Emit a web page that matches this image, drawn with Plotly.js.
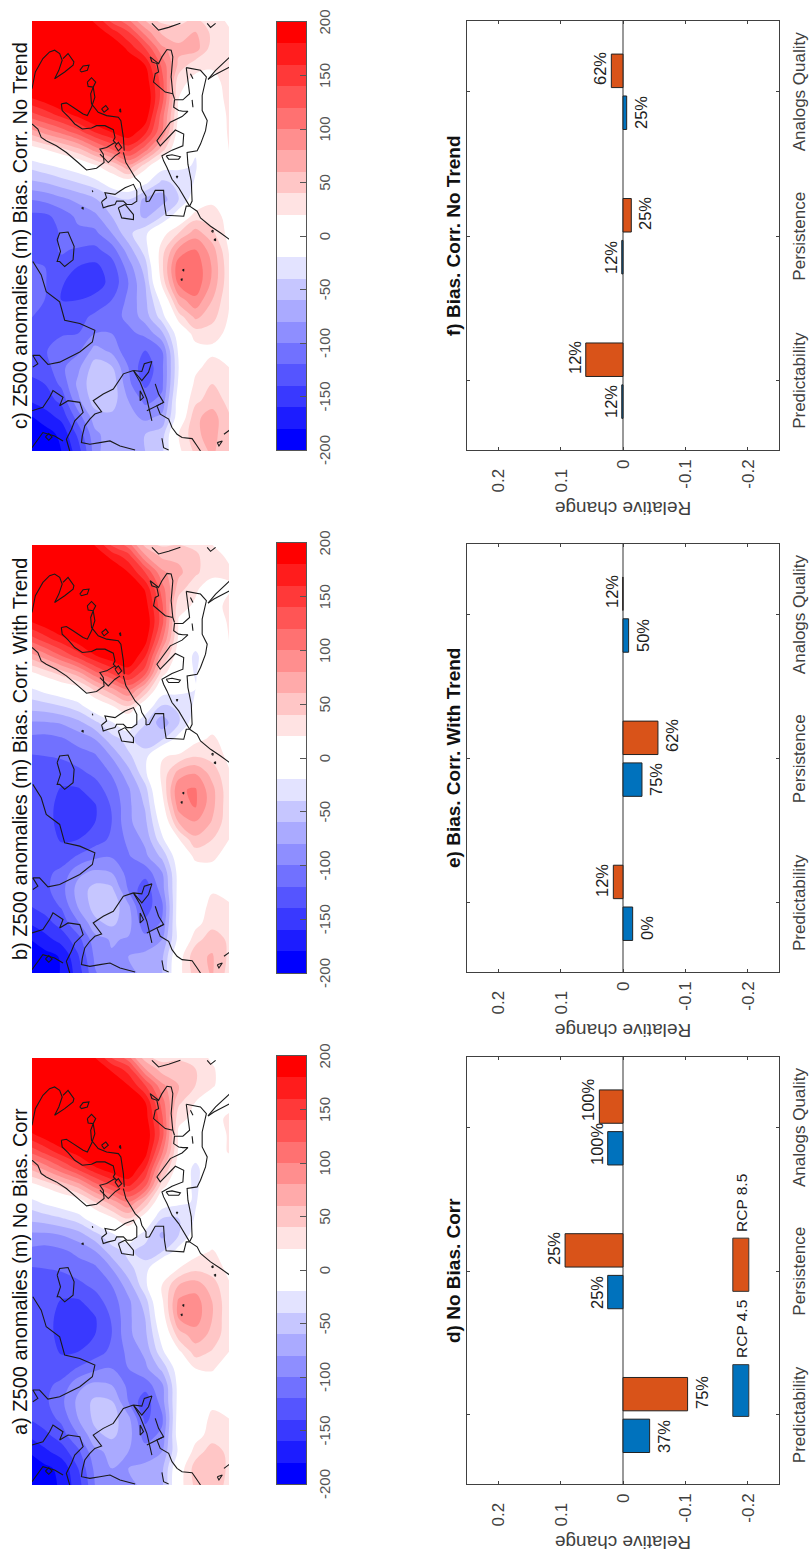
<!DOCTYPE html>
<html>
<head>
<meta charset="utf-8">
<script src="https://cdn.plot.ly/plotly-3.0.1.min.js"></script>
<style>
  html, body { margin: 0; padding: 0; background: #fff; overflow: hidden; }
  #wrap { width: 809px; height: 1564px; overflow: hidden; position: relative; }
  /* the figure was laid out landscape and turned a quarter turn */
  #chart { width: 1564px; height: 809px; position: absolute; left: 0; top: 0;
           transform-origin: 0 0; transform: rotate(-90deg) translateX(-1564px); }
</style>
</head>
<body>
<div id="wrap"><div id="chart"></div></div>
<script>
const lons = [-80,-75,-70,-65,-60,-55,-50,-45,-40,-35,-30,-25,-20,-15,-10,-5,0,5,10,15,20,25,30,35,40,45,50];
const lats = [74,70,66,62,58,54,50,46,42,38,34,30,26];

const z500a = [
  [-200,-198,-180,-158,-140,-132,-128,-125,-125,-125,-125,-125,-125,-122,-105,-85,-55,-30,10,60,120,170,205,230,250,260,265],
  [-195,-185,-165,-145,-130,-125,-125,-128,-130,-130,-130,-128,-125,-120,-110,-85,-50,-15,25,85,145,190,220,240,255,260,260],
  [-175,-175,-150,-130,-115,-105,-115,-130,-142,-148,-148,-142,-128,-118,-105,-80,-42,-5,45,115,170,210,235,250,250,240,225],
  [-150,-140,-125,-100,-80,-75,-85,-118,-140,-150,-150,-143,-125,-110,-95,-70,-30,5,70,145,190,225,240,245,240,230,200],
  [-100,-95,-85,-65,-55,-55,-75,-105,-130,-140,-142,-130,-115,-105,-82,-48,-5,40,110,175,215,235,240,235,225,200,170],
  [-85,-80,-75,-55,-50,-58,-80,-100,-115,-120,-118,-110,-100,-80,-50,-25,15,70,140,195,225,235,235,225,205,175,120],
  [-85,-80,-80,-72,-75,-100,-105,-100,-95,-85,-85,-85,-70,-45,-35,-5,40,100,165,205,225,228,225,205,180,150,85],
  [-75,-75,-90,-110,-125,-135,-110,-85,-75,-65,-60,-50,-25,-30,-50,-30,5,55,125,160,190,200,190,180,140,80,35],
  [-65,-65,-80,-95,-105,-90,-85,-55,-25,-10,5,15,20,15,-40,-65,-40,-5,30,65,105,130,125,110,85,50,25],
  [10,5,-15,-5,-5,-10,-10,-5,15,50,80,85,60,20,-10,-40,-40,-15,-5,5,15,15,25,45,60,50,30],
  [45,50,30,10,5,10,5,20,50,70,90,90,70,35,12,-8,-18,-22,-25,-28,-5,10,15,20,40,40,25],
  [60,60,50,30,25,15,10,22,38,55,60,60,50,30,22,8,5,0,0,5,5,8,10,10,22,22,15],
  [30,35,35,22,20,12,5,10,20,25,25,25,22,15,10,5,0,0,0,0,22,22,25,10,10,10,8],
];
const z500b = [
  [-205,-198,-182,-160,-142,-135,-130,-126,-125,-125,-125,-125,-125,-122,-105,-82,-52,-25,15,65,125,175,208,232,250,260,265],
  [-198,-188,-168,-148,-132,-126,-125,-128,-130,-130,-130,-128,-125,-120,-108,-82,-48,-12,30,90,150,192,222,240,255,258,258],
  [-178,-178,-152,-132,-118,-108,-115,-130,-142,-148,-148,-142,-128,-118,-103,-78,-40,-2,50,120,172,212,236,250,250,240,222],
  [-152,-142,-128,-102,-78,-72,-85,-118,-140,-150,-150,-142,-125,-110,-92,-66,-28,8,75,150,192,226,240,245,240,228,198],
  [-102,-96,-88,-65,-52,-52,-75,-105,-130,-140,-142,-130,-115,-103,-80,-45,-2,45,115,178,215,235,240,235,225,198,168],
  [-85,-82,-78,-55,-46,-55,-80,-102,-116,-120,-118,-110,-98,-78,-48,-22,18,75,145,196,226,235,235,225,205,172,118],
  [-85,-80,-82,-72,-76,-102,-108,-102,-95,-85,-85,-83,-68,-43,-33,-5,42,105,168,206,226,228,225,205,180,148,88],
  [-75,-75,-92,-115,-130,-135,-112,-85,-75,-65,-58,-48,-24,-28,-55,-38,0,58,128,162,190,200,190,178,140,82,40],
  [-62,-65,-80,-98,-105,-90,-82,-55,-25,-8,8,20,25,18,-42,-72,-42,-6,30,65,105,128,125,110,85,55,28],
  [12,8,-12,-6,-6,-10,-10,-2,18,60,90,98,68,24,-10,-42,-38,-12,-5,5,15,18,25,50,65,55,32],
  [50,55,32,12,8,15,8,25,55,78,102,102,78,38,14,-6,-16,-20,-22,-26,-5,12,18,22,45,45,28],
  [62,62,52,32,26,18,12,24,40,58,66,66,52,32,24,10,6,0,0,5,5,8,12,12,24,24,18],
  [32,36,36,24,22,14,5,12,20,26,26,26,22,15,10,6,0,0,0,0,22,22,25,18,22,18,8],
];
const z500c = [
  [-200,-198,-185,-160,-145,-135,-130,-125,-118,-112,-112,-118,-128,-130,-125,-100,-65,-35,5,65,125,175,210,235,250,260,260],
  [-198,-190,-170,-150,-140,-130,-122,-122,-125,-120,-118,-120,-128,-130,-125,-95,-60,-25,20,85,145,190,220,240,250,255,250],
  [-180,-175,-155,-135,-115,-105,-110,-122,-132,-140,-138,-125,-118,-118,-112,-85,-50,-15,35,105,165,210,235,245,245,235,215],
  [-150,-135,-110,-85,-75,-85,-105,-120,-128,-140,-150,-140,-122,-105,-95,-75,-40,-5,55,130,185,220,240,245,240,225,195],
  [-90,-85,-70,-50,-45,-50,-72,-100,-115,-135,-148,-145,-125,-105,-85,-62,-30,15,90,160,205,230,240,235,220,195,165],
  [-60,-70,-65,-50,-45,-58,-85,-100,-108,-120,-135,-130,-110,-80,-60,-50,-5,40,120,180,215,230,235,225,205,170,115],
  [-60,-65,-72,-80,-95,-100,-115,-105,-95,-95,-100,-90,-70,-45,-45,-40,5,75,150,195,220,225,220,200,175,140,85],
  [-60,-60,-85,-105,-125,-135,-120,-95,-70,-65,-60,-50,-30,-25,-65,-65,-15,30,110,165,195,205,195,180,140,90,45],
  [-45,-50,-75,-95,-105,-105,-100,-65,-30,-10,25,35,30,10,-40,-70,-45,-10,50,100,110,130,130,115,85,55,25],
  [15,20,-5,-5,-15,-20,-15,-5,30,70,105,115,85,40,-5,-40,-35,-15,-5,5,15,20,25,55,65,50,25],
  [45,55,55,35,25,15,10,30,65,95,115,115,100,70,30,-5,-18,-22,-18,-10,0,5,15,25,70,60,35],
  [65,70,70,50,40,28,15,28,48,60,75,78,70,45,30,15,8,5,5,5,10,12,15,22,30,35,25],
  [40,40,42,35,30,20,12,15,18,22,25,25,18,12,12,15,10,5,22,22,22,24,25,22,22,22,15],
];

// coast outlines as [lon, lat]
const iceland = [[-17,67],[-15,66.4],[-14.7,64.4],[-19,62.95],[-23,63.2],[-25,65.2],[-23.5,66.4],[-23.5,67],[-20.5,66.2],[-17,67]];
const greenland = [[-23.5,72.8],[-27.5,70.8],[-32.5,69.6],[-35.5,66.4],[-41,65.2],[-42,61.6],[-44,58],[-47.5,58.6],[-50.5,61.6],[-53.5,66.4],[-54.2,69.2],[-51.5,71.2],[-51.5,72.8],[-54,71.6],[-55,72.8]];
const labrador = [[-56,48.8],[-57,51.2],[-61.5,53.6],[-63,56],[-65,58.4],[-67,57.2],[-68.3,56.4],[-69,58],[-70.5,59.2],[-72.5,60.4],[-75.5,61],[-77.5,61.2],[-78,59.2],[-77.5,56.8],[-77,54.4],[-78.5,52],[-79.7,48.4]];
const stLawrence = [[-56,48.8],[-59.5,47.2],[-64.5,45.6],[-71,44.4]];
const newfoundland = [[-56,48.8],[-56.3,46.8],[-54,46.2],[-53.3,44.4],[-56.5,45.2],[-59,46.8],[-56,48.8]];
const peiLoop = [[-62,47.2],[-64,46.4],[-65,47.2],[-62,47.2]];
const novaScotia = [[-60,43.6],[-63,42.8],[-65.5,41.6],[-66.5,43.2],[-68,45.6]];
const usCoast = [[-65.5,41.6],[-66.5,43.2],[-69,42.4],[-70.5,40.4],[-73,39.6],[-75,38.4],[-76,37.2],[-76.3,34.8],[-78.5,33.6],[-80,32.8]];
const lakeErie = [[-76.2,42],[-79,41.6],[-79.7,40.4]];
const baffin = [[-68,73],[-67,70.4],[-64,68.8],[-62,68],[-64,65.6],[-66.5,66.4],[-65,64.4],[-65.5,61.6],[-68.5,60.8],[-71,62.8],[-73.5,63.6],[-76.5,64.8],[-80,64]];
const foxe = [[-79,73],[-74.5,70.4],[-75.5,67.6],[-77,65.6]];
const foxeIsle = [[-75.8,69.8],[-74.8,69],[-75.8,68.2],[-76.8,69],[-75.8,69.8]];
const caribbean = [[-77.5,28.8],[-77,27.6],[-78.5,28.4],[-77.5,28.8]];
const caribbean2 = [[-75,27.2],[-73.7,25.8]];
const norway = [[17.5,73],[16,71.6],[13.5,70.8],[12.5,69.6],[11,67.2],[9,64.8],[6,62],[3.8,60],[4.3,57.6],[6,55.8],[8.5,56],[10,56.8],[10.5,55.2],[12,53.2]];
const jutland = [[8.5,56.8],[6,54.8],[8,53.2],[9,52]];
const zealand = [[11,53.2],[12,52.4],[10.5,51.6],[9.5,52.4],[11,53.2]];
const westEurope = [[9,51.2],[6,50.6],[4,49.6],[1.5,48.4],[0,47.2],[-2,46.8],[-4,45.8],[-5.7,45.8]];
const iberia = [[-5.7,45.8],[-5.5,45],[-2.3,43.6],[-2.3,41.6],[-6.5,41.4],[-9.7,41],[-10,36.8],[-7,36.2],[-7,35.4]];
const medNorth = [[34.3,36.2],[29,35.6],[26.5,35.4],[24.7,37],[24.7,39],[22.5,39.2],[21.5,38],[21.3,37],[21.3,35.8],[19.7,37.2],[18,40],[12.5,43.2],[11,42.4],[15.7,38.8],[14.5,36.8],[11,37],[9.7,39.6],[8,42],[6.5,41.6],[4.5,40.8],[1,39.6],[-1.5,38],[-7,35.4]];
const sardinia = [[8,41],[8.3,39.6],[7.7,37.6],[7,38],[7,40.4],[8,41]];
const balearic = [[1.9,38.6],[1.5,38.4],[1.9,38.2],[1.9,38.6]];
const crete = [[24.7,34.8],[22.5,34.6]];
const cyprus = [[32.5,35.2],[31,34.6]];
const africa = [[-7,35.4],[-5.5,34.8],[0.5,35],[5.5,35.8],[9,36],[9.5,33.6],[11.5,32.8],[15.5,31.6],[18.5,31.2],[21.5,32.4],[26,32.4],[31.5,31.4],[33.5,32.8],[34.3,36.2]];
const morocco = [[-7,35.4],[-8.5,33.6],[-10.5,32.8],[-13,30.4],[-15,28],[-17,25.8]];
const canary = [[-14.5,30.2],[-14.8,29.8],[-14.2,29.8],[-14.5,30.2]];
const canary2 = [[-17,29.6],[-17.3,29.2],[-16.7,29.2],[-17,29.6]];
const azores = [[-26,37.1],[-26.4,36.8],[-25.9,36.8],[-26,37.1]];
const azores2 = [[-28.8,37.5],[-29.2,37.2],[-28.7,37.2],[-28.8,37.5]];
const blackSea = [[26.5,39.4],[27,41.2],[30,44],[32.5,43.6],[33,42.8],[35.5,43.2],[36,44.4],[37.5,44.8],[35.5,42.8],[37.5,42],[39.7,40.8],[39.5,39.8],[37.5,39.4],[31.5,39.8],[26.5,39.4]];
const bosphorus = [[26.5,39.4],[25,39]];
const whiteSea = [[28,73],[33,72.2],[37,70.4],[39,68.8],[39.5,67.6],[38.5,66.4],[36.5,65.8],[33.5,66.6],[31,67.6],[33,65.2],[35,63.2],[36,63],[38.5,64.4],[37,65.6]];
const lakeOnega = [[33.5,61.6],[34.8,60.8],[35,59.4],[33.5,59.8],[33,61.2],[33.5,61.6]];
const lakeLadoga = [[30,59.8],[31.3,58.8],[30,57.8],[28.5,58.4],[28.7,59.6],[30,59.8]];
const bothnia = [[23.5,66],[21.5,65.8],[19.8,64.4],[17.5,62.8],[16,61],[16.3,58.8],[17,57.6],[17,55.6],[15.8,53.6],[13.5,53.2],[12.5,53.6],[11.5,52.8]];
const baltic = [[23.5,66],[23.8,64.8],[22.5,63.2],[20.5,60.8],[20,59.8],[22.5,58.8],[25.5,58],[28.5,58.4],[26.5,59],[23.5,58.8],[21,57.2],[20,55.2],[19.5,52.4],[18.5,51.8],[13.5,51.2],[9.5,51]];
const saaremaa = [[22,56.4],[21,55.8],[22,54.8],[23,55.4],[22,56.4]];
const gotland = [[21.5,52.2],[22,51.9],[21,51.8],[21.5,52.2]];
const britain = [[-5.7,56.4],[-4.5,55.2],[-3,55.6],[-3.5,53.2],[-2.5,52],[-1.5,50.8],[-0.5,48.8],[-2.5,48],[-5.5,48],[-6.5,49.2],[-6.5,50.4],[-5.5,51.2],[-5.5,52.8],[-6.5,53.2],[-7,54.8],[-7.5,56],[-5.7,56.4]];
const ireland = [[-7.5,52.4],[-6.5,50.8],[-9.5,48.8],[-11,48.8],[-10.5,51.6],[-7.5,52.4]];
const faroes = [[-7.6,61.2],[-7.8,60.8],[-7.3,60.8],[-7.6,61.2]];
const shetland = [[-2.3,58.6],[-2.8,58.5]];
const caspian = [[47.5,44.4],[45.5,42.8],[46.3,40.4],[47.5,37.6]];
const persia = [[47.5,31.2],[46.3,30.4],[47.5,29.2]];
const redSea = [[37.5,25.8],[33.5,29.2],[30.8,31]];
const redSea2 = [[34.5,25.8],[32,29.6],[30.8,31]];
const coasts = [iceland, greenland, labrador, stLawrence, newfoundland, peiLoop, novaScotia, usCoast, lakeErie, baffin, foxe, foxeIsle,
  caribbean, caribbean2, norway, jutland, zealand, westEurope, iberia, medNorth, sardinia, balearic, crete, cyprus, africa, morocco,
  canary, canary2, azores, azores2, blackSea, bosphorus, whiteSea, lakeOnega, lakeLadoga, bothnia, baltic, saaremaa, gotland, britain, ireland,
  faroes, shetland, caspian, persia, redSea, redSea2];

const levelMids = [-190,-170,-150,-130,-110,-90,-70,-50,-30,-10,10,30,50,70,90,110,130,150,170,190];
const bandColors = ["#0000ff","#1c1cff","#3939ff","#5555ff","#7171ff","#8e8eff","#aaaaff","#c6c6ff","#e3e3ff","#ffffff",
                    "#ffffff","#ffe3e3","#ffc6c6","#ffaaaa","#ff8e8e","#ff7171","#ff5555","#ff3939","#ff1c1c","#ff0000"];
const barTickVals = [-200,-150,-100,-50,0,50,100,150,200];
const barTickText = ["-200","-150","-100","-50","0","50","100","150","200"];

const categories = ["Predictability","Persistence","Analogs Quality"];
const rcp45d = [-0.0427,0.0245,0.0245];
const rcp85d = [-0.1035,0.0928,0.0379];
const pct45d = ["37%","25%","100%"];
const pct85d = ["75%","25%","100%"];
const rcp45e = [-0.0155,-0.0304,-0.009];
const rcp85e = [0.0155,-0.056,0.0003];
const pct45e = ["0%","75%","50%"];
const pct85e = ["12%","62%","12%"];
const rcp45f = [0.002,0.002,-0.0059];
const rcp85f = [0.0597,-0.0133,0.0187];
const pct45f = ["12%","12%","25%"];
const pct85f = ["12%","25%","62%"];
const valueTicks = [0.2,0.1,0,-0.1,-0.2];
const valueTickText = ["0.2\u00a0\u00a0","0.1\u00a0\u00a0","0","-0.1","-0.2"];

const mapTitles = ["a) Z500 anomalies (m) No Bias. Corr","b) Z500 anomalies (m) Bias. Corr. With Trend","c) Z500 anomalies (m) Bias. Corr. No Trend"];
const barTitles = ["d) No Bias. Corr","e) Bias. Corr. With Trend","f) Bias. Corr. No Trend"];

const W = 1564, H = 809;
const FONT = "Liberation Sans, Arial, sans-serif";
const BLUE = "#0072BD", ORANGE = "#D95319", AXIS = "#404040";
const mapX = [[79,506],[591,1019],[1113,1543]];
const cbX = [[80,508],[591,1021],[1114,1542]];
const barX = [[80,507],[592,1020],[1114,1543]];
const domX = (r) => [r[0] / W, r[1] / W];
const domY = (a, b) => [1 - b / H, 1 - a / H];

// coast segments joined with gaps for one line trace
const coastLon = [], coastLat = [];
coasts.forEach((seg) => {
  seg.forEach((p) => { coastLon.push(p[0]); coastLat.push(p[1]); });
  coastLon.push(null); coastLat.push(null);
});

// contour fill has one band below start and one above end
const fillColors = [bandColors[0], ...bandColors, bandColors[19]];
const fillScale = fillColors.map((c, i) => [i / 21, c]);
const stepScale = [];
bandColors.forEach((c, i) => { stepScale.push([i / 20, c], [(i + 1) / 20, c]); });

const traces = [], annotations = [], shapes = [], layout = {};

[z500a, z500b, z500c].forEach((z, i) => {
  const n = i === 0 ? "" : String(i + 1);
  traces.push({
    type: "contour", x: lons, y: lats, z, xaxis: "x" + n, yaxis: "y" + n,
    autocontour: false, contours: { start: -200, end: 200, size: 20, coloring: "fill", showlines: false },
    line: { width: 0 }, colorscale: fillScale, showscale: false, hoverinfo: "skip",
  });
  traces.push({
    type: "scatter", mode: "lines", x: coastLon, y: coastLat, xaxis: "x" + n, yaxis: "y" + n,
    line: { color: "#1a1a1a", width: 1.1 }, hoverinfo: "skip", showlegend: false,
  });
  layout["xaxis" + n] = { domain: domX(mapX[i]), range: [-80, 48.2], visible: false, anchor: "y" + n };
  layout["yaxis" + n] = { domain: domY(32, 229), range: [26, 73], visible: false, anchor: "x" + n };
  annotations.push({
    xref: "paper", yref: "paper", x: (mapX[i][0] + mapX[i][1]) / 2 / W, y: 1 - 20 / H,
    text: mapTitles[i], showarrow: false, xanchor: "center", yanchor: "middle",
    font: { family: FONT, size: 20, color: "#111" },
  });
});

[0, 1, 2].forEach((i) => {
  const n = String(i + 4);
  traces.push({
    type: "heatmap", x: levelMids, y: [0], z: [levelMids], xaxis: "x" + n, yaxis: "y" + n,
    zmin: -200, zmax: 200, colorscale: stepScale, showscale: false, hoverinfo: "skip",
  });
  layout["xaxis" + n] = {
    domain: domX(cbX[i]), range: [-200, 200], anchor: "y" + n, tickvals: barTickVals, ticktext: barTickText,
    ticks: "inside", ticklen: 6, tickcolor: "#555", showline: true, mirror: true, linecolor: "#555", linewidth: 1,
    showgrid: false, zeroline: false, ticklabelstandoff: 5, tickangle: 0,
    tickfont: { family: FONT, size: 15, color: "#555" },
  };
  layout["yaxis" + n] = {
    domain: domY(277, 306), range: [-0.5, 0.5], anchor: "x" + n, showticklabels: false, ticks: "",
    showline: true, mirror: true, linecolor: "#555", linewidth: 1, showgrid: false, zeroline: false,
  };
});

const barData = [[rcp45d, rcp85d, pct45d, pct85d], [rcp45e, rcp85e, pct45e, pct85e], [rcp45f, rcp85f, pct45f, pct85f]];
barData.forEach((d, i) => {
  const n = String(i + 7);
  const xa = "x" + n, ya = "y" + n;
  traces.push({ type: "bar", x: [1, 2, 3], y: d[0], name: "RCP 4.5", xaxis: xa, yaxis: ya,
    marker: { color: BLUE, line: { color: "#222", width: 1 } }, hoverinfo: "skip", showlegend: false });
  traces.push({ type: "bar", x: [1, 2, 3], y: d[1], name: "RCP 8.5", xaxis: xa, yaxis: ya,
    marker: { color: ORANGE, line: { color: "#222", width: 1 } }, hoverinfo: "skip", showlegend: false });
  layout["xaxis" + n] = {
    domain: domX(barX[i]), range: [0.52, 3.49], anchor: ya, tickvals: [1, 2, 3], ticktext: categories,
    ticks: "inside", ticklen: 3, tickcolor: AXIS, mirror: "allticks", showline: true, linecolor: AXIS, linewidth: 1,
    showgrid: false, zeroline: false, ticklabelstandoff: 5, tickangle: 0,
    tickfont: { family: FONT, size: 17, color: AXIS },
  };
  layout["yaxis" + n] = {
    domain: domY(467, 779), range: [-0.25, 0.25], anchor: xa, tickvals: valueTicks, ticktext: valueTickText,
    ticks: "inside", ticklen: 3, tickcolor: AXIS, mirror: "allticks", showline: true, linecolor: AXIS, linewidth: 1,
    showgrid: false, zeroline: true, zerolinecolor: "#999", zerolinewidth: 1.5, ticklabelstandoff: 5,
    tickfont: { family: FONT, size: 17, color: AXIS },
    title: { text: "Relative change", standoff: 3, font: { family: FONT, size: 19, color: AXIS } },
  };
  annotations.push({
    xref: "paper", yref: "paper", x: (barX[i][0] + barX[i][1]) / 2 / W, y: 1 - 453 / H,
    text: "<b>" + barTitles[i] + "</b>", showarrow: false, xanchor: "center", yanchor: "middle",
    font: { family: FONT, size: 19, color: "#111" },
  });
  // percentage labels sit beside each bar, left aligned on the group
  [[d[0], d[2], -0.275], [d[1], d[3], 0.03]].forEach(([vals, pcts, off]) => {
    vals.forEach((v, k) => {
      annotations.push({
        xref: xa, yref: ya, x: k + 1 + off, y: v, text: pcts[k], showarrow: false,
        xanchor: "left", yanchor: "middle", yshift: v < 0 ? -14 : 11,
        font: { family: FONT, size: 16.5, color: "#222" },
      });
    });
  });
});

// hand drawn legend inside panel d
const legendKeys = [
  { x0: 0.99, x1: 1.35, color: BLUE, label: "RCP 4.5", labelX: 1.38 },
  { x0: 1.86, x1: 2.23, color: ORANGE, label: "RCP 8.5", labelX: 2.26 },
];
legendKeys.forEach((k) => {
  shapes.push({ type: "rect", xref: "x7", yref: "y7", x0: k.x0, x1: k.x1, y0: -0.2016, y1: -0.176,
    fillcolor: k.color, line: { color: "#333", width: 1 } });
  annotations.push({ xref: "x7", yref: "y7", x: k.labelX, y: -0.19, text: k.label, showarrow: false,
    xanchor: "left", yanchor: "middle", font: { family: FONT, size: 15.5, color: "#222" } });
});

Object.assign(layout, {
  width: W, height: H, margin: { l: 0, r: 0, t: 0, b: 0 }, paper_bgcolor: "#fff", plot_bgcolor: "#fff",
  barmode: "group", bargap: 0.42, bargroupgap: 0.2, showlegend: false, annotations, shapes,
  font: { family: FONT },
});

Plotly.newPlot("chart", traces, layout, { displayModeBar: false, responsive: false });
</script>
</body>
</html>
